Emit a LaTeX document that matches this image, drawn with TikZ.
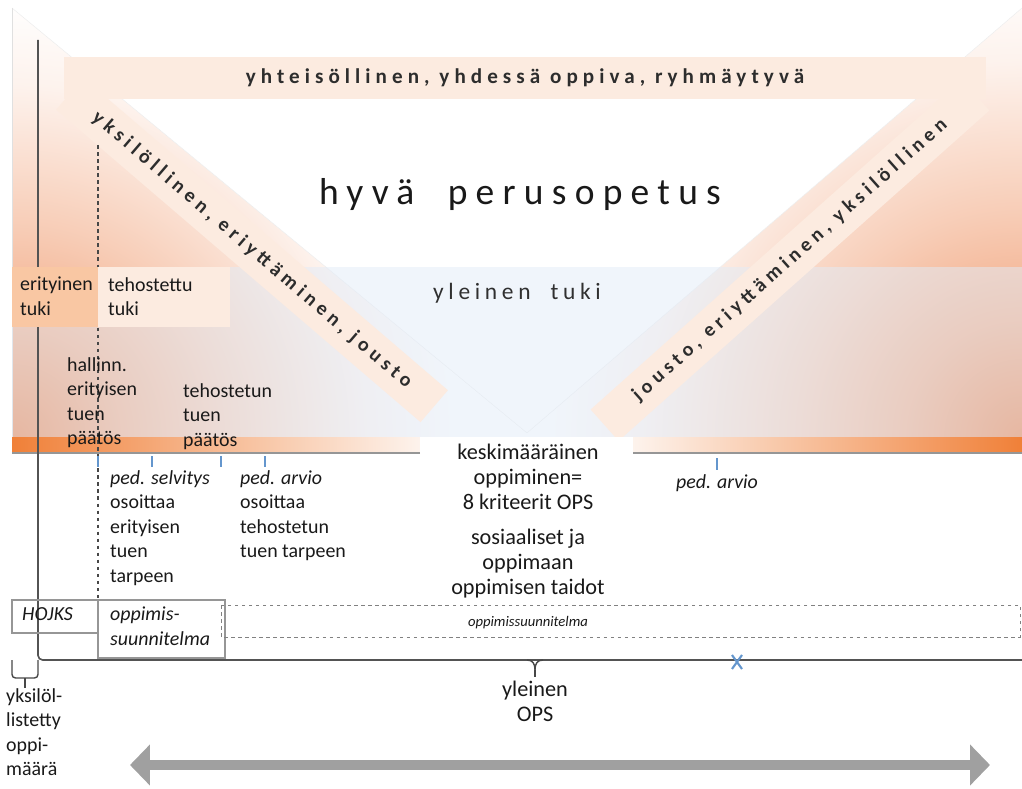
\documentclass[tikz,border=0pt]{standalone}
\usepackage{fontspec}
\setmainfont{Carlito}
\usetikzlibrary{arrows.meta}

\definecolor{ink}{RGB}{25,25,25}
\definecolor{bandgrey}{RGB}{45,45,45}
\definecolor{peachlight}{RGB}{252,235,224}
\definecolor{peachdark}{RGB}{249,199,163}
\definecolor{warm}{RGB}{236,130,75}
\definecolor{stripor}{RGB}{240,128,56}
\definecolor{paleblue}{RGB}{226,236,248}
\definecolor{lineg}{RGB}{150,150,150}
\definecolor{tickblue}{RGB}{100,150,205}
\definecolor{arrowg}{RGB}{160,160,160}

\pgfdeclareradialshading{warmglow}{\pgfpoint{0bp}{0bp}}{color(0bp)=(warm);
  color(6bp)=(warm!66!white); color(12bp)=(warm!40!white);
  color(20bp)=(warm!10!white); color(25bp)=(white); color(50bp)=(white)}

\tikzset{
  band/.style={fill=peachlight, inner sep=0pt, minimum height=1.26cm, text=bandgrey,
    font=\fontsize{17}{20}\selectfont\bfseries\addfontfeature{LetterSpace=24}},
  lbl/.style={anchor=north west, inner sep=0pt, align=left, text=ink,
    font=\fontsize{17}{21}\selectfont},
  mid/.style={anchor=north, inner sep=0pt, align=center, text=ink,
    font=\fontsize{19}{21.3}\selectfont},
  bluetick/.style={tickblue, line width=1.6pt},
}

\begin{document}
\begin{tikzpicture}[x=0.03cm, y=-0.03cm]
\useasboundingbox (0,0) rectangle (1022,789);

% warm corners behind the V
\begin{scope}
  \clip (12,8) -- (527,433) -- (527,437) -- (12,437) -- cycle;
  \shade[shading=warmglow] (12,437) circle (440);
\end{scope}
\begin{scope}
  \clip (1022,8) -- (527,433) -- (527,437) -- (1022,437) -- cycle;
  \shade[shading=warmglow] (1022,437) circle (470);
\end{scope}
\fill[white] (12,8) -- (1022,8) -- (527,433) -- cycle;
\draw[black!7] (12,8) -- (527,433) -- (1022,8);
\draw[black!12] (12,8) -- (12,437);

% yleinen tuki layer
\fill[paleblue, opacity=.5] (12,267) rectangle (1022,437);

% the three bands
\node[band, minimum width=14.4cm, rotate=-40.6] (vasen) at (252,250) {yksilöllinen, eriyttäminen, jousto};
\node[band, minimum width=14.9cm, rotate=41.7] (oikea) at (790,260) {jousto, eriyttäminen, yksilöllinen};
\node[band, minimum width=27.66cm, font=\fontsize{18}{20}\selectfont\bfseries\addfontfeature{LetterSpace=24}] (yht) at (525,78) {yhteisöllinen, yhdessä oppiva, ryhmäytyvä};

\node[text=ink, font=\fontsize{32}{34}\selectfont\addfontfeature{LetterSpace=22}] (hyva) at (520,195) {hyvä\ \ perusopetus};
\node[text=ink!90, font=\fontsize{20}{22}\selectfont\addfontfeature{LetterSpace=20}] (tuki) at (517,293) {yleinen\ \ tuki};

% strip under the layers
\shade[left color=stripor, middle color=stripor!45!white, right color=peachlight!60!white] (12,437) rectangle (420,453);
\shade[left color=peachlight!60!white, middle color=stripor!45!white, right color=stripor] (633,437) rectangle (1022,453);
\draw[lineg, line width=1.5pt] (12,453) -- (420,453);
\draw[lineg, line width=1.5pt] (633,453) -- (1022,453);

% time lines
\draw[ink!75, line width=1.4pt, rounded corners=4] (38,40) -- (38,660) -- (1022,660);
\draw[ink!80, line width=.9pt, dashed] (98,145) -- (98,600);

\fill[peachdark] (12,267) rectangle (98,327);
\fill[peachlight] (98,267) rectangle (230,327);
\node[lbl] (erit) at (20,277) {erityinen\\tuki};
\node[lbl] (tehot) at (108,277) {tehostettu\\tuki};
\node[lbl] (hall) at (67,357) {hallinn.\\erityisen\\tuen\\päätös};
\node[lbl] (tehp) at (183,383) {tehostetun\\tuen\\päätös};

% routine for ticks
\draw[bluetick] (98,456) -- (98,467);
\draw[bluetick] (152,456) -- (152,467);
\draw[bluetick] (221,456) -- (221,467);
\draw[bluetick] (265,456) -- (265,467);
\draw[bluetick] (717,458) -- (717,470);

\node[lbl] (selv) at (110,470) {\textit{ped. selvitys}\\osoittaa\\erityisen\\tuen\\tarpeen};
\node[lbl] (arvio) at (240,470) {\textit{ped. arvio}\\osoittaa\\tehostetun\\tuen tarpeen};
\node[text=ink, font=\fontsize{17}{21}\selectfont\itshape] (arvio2) at (717,483) {ped. arvio};

\fill[white] (420,437) rectangle (633,453);
\node[mid] (kesk) at (528,444) {keskimääräinen\\oppiminen=\\8 kriteerit OPS};
\node[mid] (sos) at (528,529) {sosiaaliset ja\\oppimaan\\oppimisen taidot};
\node[text=ink, font=\fontsize{12.5}{14}\selectfont\itshape] (ops) at (528,623) {oppimissuunnitelma};

% plans
\draw[lineg, line width=.9pt] (12,600) rectangle (98,633);
\draw[lineg, line width=.9pt] (98,600) rectangle (225,658);
\draw[ink!55, dashed, line width=.8pt] (221,605) rectangle (1020,637);
\node[lbl, font=\fontsize{17}{21}\selectfont\itshape] (hojks) at (22,607) {HOJKS};
\node[lbl, font=\fontsize{17}{21}\selectfont\itshape] (oppis) at (110,607) {oppimis-\\suunnitelma};

% braces on the axis
\draw[ink!80, line width=1.2pt, rounded corners=3] (12,660) -- (12,678) -- (38,678) -- (38,660);
\draw[ink!80, line width=1.2pt] (25,678) -- (25,688);
\draw[ink!80, line width=1.2pt] (527,660) .. controls (533,660) and (535,664) .. (535,670) .. controls (535,664) and (537,660) .. (543,660);
\draw[ink!80, line width=1.2pt] (535,670) -- (535,677);
\draw[tickblue, line width=1.8pt] (732,655) -- (742,669) (742,655) -- (732,669);

\node[lbl] (yks) at (6,688) {yksilöl-\\listetty\\oppi-\\määrä};
\node[mid] (yleinen) at (535,681) {yleinen\\OPS};

\coordinate (aL) at (130,765);
\coordinate (aR) at (990,765);
\draw[arrowg, line width=8.5pt, {Triangle[length=17pt,width=34pt]}-{Triangle[length=17pt,width=34pt]}] (aL) -- (aR);
\end{tikzpicture}
\end{document}
